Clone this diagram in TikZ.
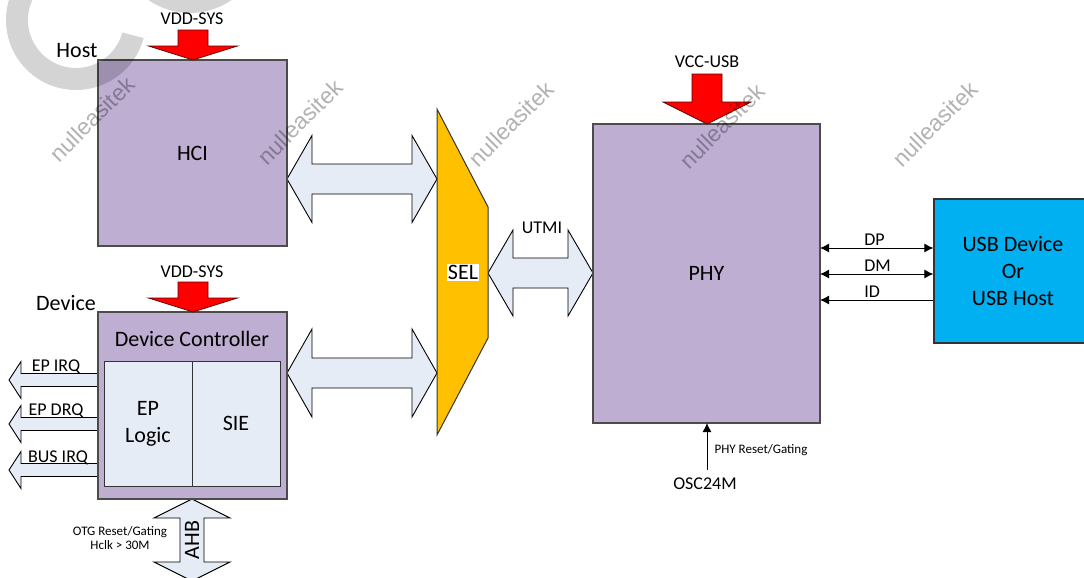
\documentclass[tikz,border=0pt]{standalone}
\usepackage{fontspec}
\setmainfont{Carlito}
\newfontfamily\wmfont{Liberation Sans}
\usetikzlibrary{arrows.meta}
\definecolor{lav}{HTML}{BEAED2}
\definecolor{lblue}{HTML}{E6ECF6}
\definecolor{selc}{HTML}{FFC000}
\definecolor{usbc}{HTML}{00B0F0}
\newcommand\dblharrow[6]{% x1,x2,yc,headlen,headhalf,shafthalf
  \filldraw[barrow] (#1,#3) -- ({#1+#4},{#3-#5}) -- ({#1+#4},{#3-#6}) -- ({#2-#4},{#3-#6}) -- ({#2-#4},{#3-#5}) -- (#2,#3)
   -- ({#2-#4},{#3+#5}) -- ({#2-#4},{#3+#6}) -- ({#1+#4},{#3+#6}) -- ({#1+#4},{#3+#5}) -- cycle;}
\newcommand\dblvarrow[6]{% y1,y2,xc,headlen,headhalf,shafthalf
  \filldraw[barrow] (#3,#1) -- ({#3-#5},{#1+#4}) -- ({#3-#6},{#1+#4}) -- ({#3-#6},{#2-#4}) -- ({#3-#5},{#2-#4}) -- (#3,#2)
   -- ({#3+#5},{#2-#4}) -- ({#3+#6},{#2-#4}) -- ({#3+#6},{#1+#4}) -- ({#3+#5},{#1+#4}) -- cycle;}
\newcommand\leftharrow[1]{% yc
  \filldraw[barrow] (9,#1) -- (21,{#1-18.5}) -- (21,{#1-6.5}) -- (98,{#1-6.5}) -- (98,{#1+6.5}) -- (21,{#1+6.5}) -- (21,{#1+18.5}) -- cycle;}
\newcommand\pwrarrow[6]{% xc, shafthalf, top, heady, headhalf, tip
  \filldraw[parrow] ({#1-#2},#3) -- ({#1+#2},#3) -- ({#1+#2},#4) -- ({#1+#5},#4) -- (#1,#6) -- ({#1-#5},#4) -- ({#1-#2},#4) -- cycle;}
\begin{document}
\begin{tikzpicture}[x=0.5pt,y=-0.5pt,
  >={Latex[length=4.5pt,width=4.5pt]},
  barrow/.style={fill=lblue, draw=black, line width=0.45pt, line join=miter},
  parrow/.style={fill=red, draw=red!35!black, line width=0.35pt},
  blk/.style={draw=black!70, line width=0.6pt, fill=lav, inner sep=0pt, outer sep=0pt},
  inner/.style={draw=black!80, line width=0.5pt, fill=lblue, inner sep=0pt, outer sep=0pt, align=center},
  big/.style={font=\fontsize{11}{13.5}\selectfont, inner sep=0pt},
  med/.style={font=\fontsize{9}{10}\selectfont, inner sep=0pt},
  tiny/.style={font=\fontsize{6.5}{5.2}\selectfont, inner sep=0pt, align=center},
  thinarr/.style={line width=0.5pt, draw=black},
  wm/.style={fill=black, fill opacity=0.17},
  wmtext/.style={text=black, text opacity=0.3, rotate=45, font=\wmfont\fontsize{11.5}{12}\selectfont, inner sep=0pt}]
\useasboundingbox (0,0) rectangle (1084,578);
\clip (0,0) rectangle (1084,578);
\fill[white] (0,0) rectangle (1084,578);

% block arrows
\dblharrow{287}{437}{179}{25}{43.5}{15}
\dblharrow{287}{437}{373}{25}{44}{15}
\dblharrow{488}{593}{273}{25}{43}{15}
\dblvarrow{499}{581}{192}{19}{38}{12}
\leftharrow{380}
\leftharrow{424}
\leftharrow{470}

% boxes
\node[blk, minimum width=94.5pt, minimum height=93pt, big] (hci) at (192.5,153) {HCI};
\node[blk, minimum width=94.5pt, minimum height=93.5pt] (dev) at (192.5,405.5) {};
\node[big] (devc) at (192,339) {Device Controller};
\node[inner, minimum width=44pt, minimum height=62.5pt, big] (epl) at (148,423.5) {EP\\Logic};
\node[inner, minimum width=44pt, minimum height=62.5pt, big] (sie) at (236,423.5) {SIE};
\node[blk, minimum width=113.5pt, minimum height=149.5pt, big] (phy) at (706.5,273.5) {PHY};
\node[draw=black!80, line width=0.6pt, fill=usbc, minimum width=79pt, minimum height=72pt, big, align=center, inner sep=0pt] (usb) at (1013,271) {USB Device\\Or\\USB Host};

% SEL
\filldraw[fill=selc, draw=black!80, line width=0.5pt] (437,109) -- (488,207) -- (488,338) -- (437,435) -- cycle;
\node[big, fill=white, inner sep=0.6pt] (sel) at (463,272.5) {SEL};

% power arrows
\pwrarrow{193}{15}{30}{46}{44.5}{60}
\pwrarrow{193}{15}{282}{298}{44.5}{312}
\pwrarrow{707}{15}{74}{102}{44}{124}
\node[med] (vdd1) at (192,19) {VDD-SYS};
\node[med] (vdd2) at (192,272) {VDD-SYS};
\node[med] (vcc) at (707,62) {VCC-USB};

% labels
\node[big] (host) at (77,51) {Host};
\node[big] (device) at (66,303) {Device};
\node[med] (utmi) at (542,228) {UTMI};
\node[med] (epirq) at (56,366.5) {EP IRQ};
\node[med] (epdrq) at (56,411) {EP DRQ};
\node[med] (busirq) at (58,457.5) {BUS IRQ};
\node[big, rotate=90] (ahb) at (192,540) {AHB};
\node[tiny] (otg) at (120,538) {OTG Reset/Gating\\Hclk > 30M};

% USB signal lines
\draw[thinarr, <->] (phy.east |- 0,248) -- (usb.west |- 0,248);
\draw[thinarr, <->] (phy.east |- 0,274) -- (usb.west |- 0,274);
\draw[thinarr, <-] (phy.east |- 0,300) -- (usb.west |- 0,300);
\node[med, anchor=base west] (dp) at (864,245) {DP};
\node[med, anchor=base west] (dm) at (864,271.5) {DM};
\node[med, anchor=base west] (id) at (864,297) {ID};

% PHY reset
\node[med] (osc) at (705,484) {OSC24M};
\coordinate (oscTop) at (707,470);
\draw[thinarr, ->] (oscTop) -- (phy.south -| oscTop);
\node[tiny] (phyrst) at (761,450) {PHY Reset/Gating};

% watermark
\fill[wm] plot[domain=215:15, samples=80] ({76+70*cos(\x)},{20+70*sin(\x)})
  -- plot[domain=15:215, samples=80] ({76+48*cos(\x)},{20+48*sin(\x)}) -- cycle;
\fill[wm] plot[domain=0:360, samples=120] ({190+73*cos(\x)},{-60+73*sin(\x)}) -- cycle;
\node[wmtext] at (92,119) {nulleasitek};
\node[wmtext] at (300,122) {nulleasitek};
\node[wmtext] at (511,124) {nulleasitek};
\node[wmtext] at (722,126) {nulleasitek};
\node[wmtext] at (935,124) {nulleasitek};
\end{tikzpicture}
\end{document}
